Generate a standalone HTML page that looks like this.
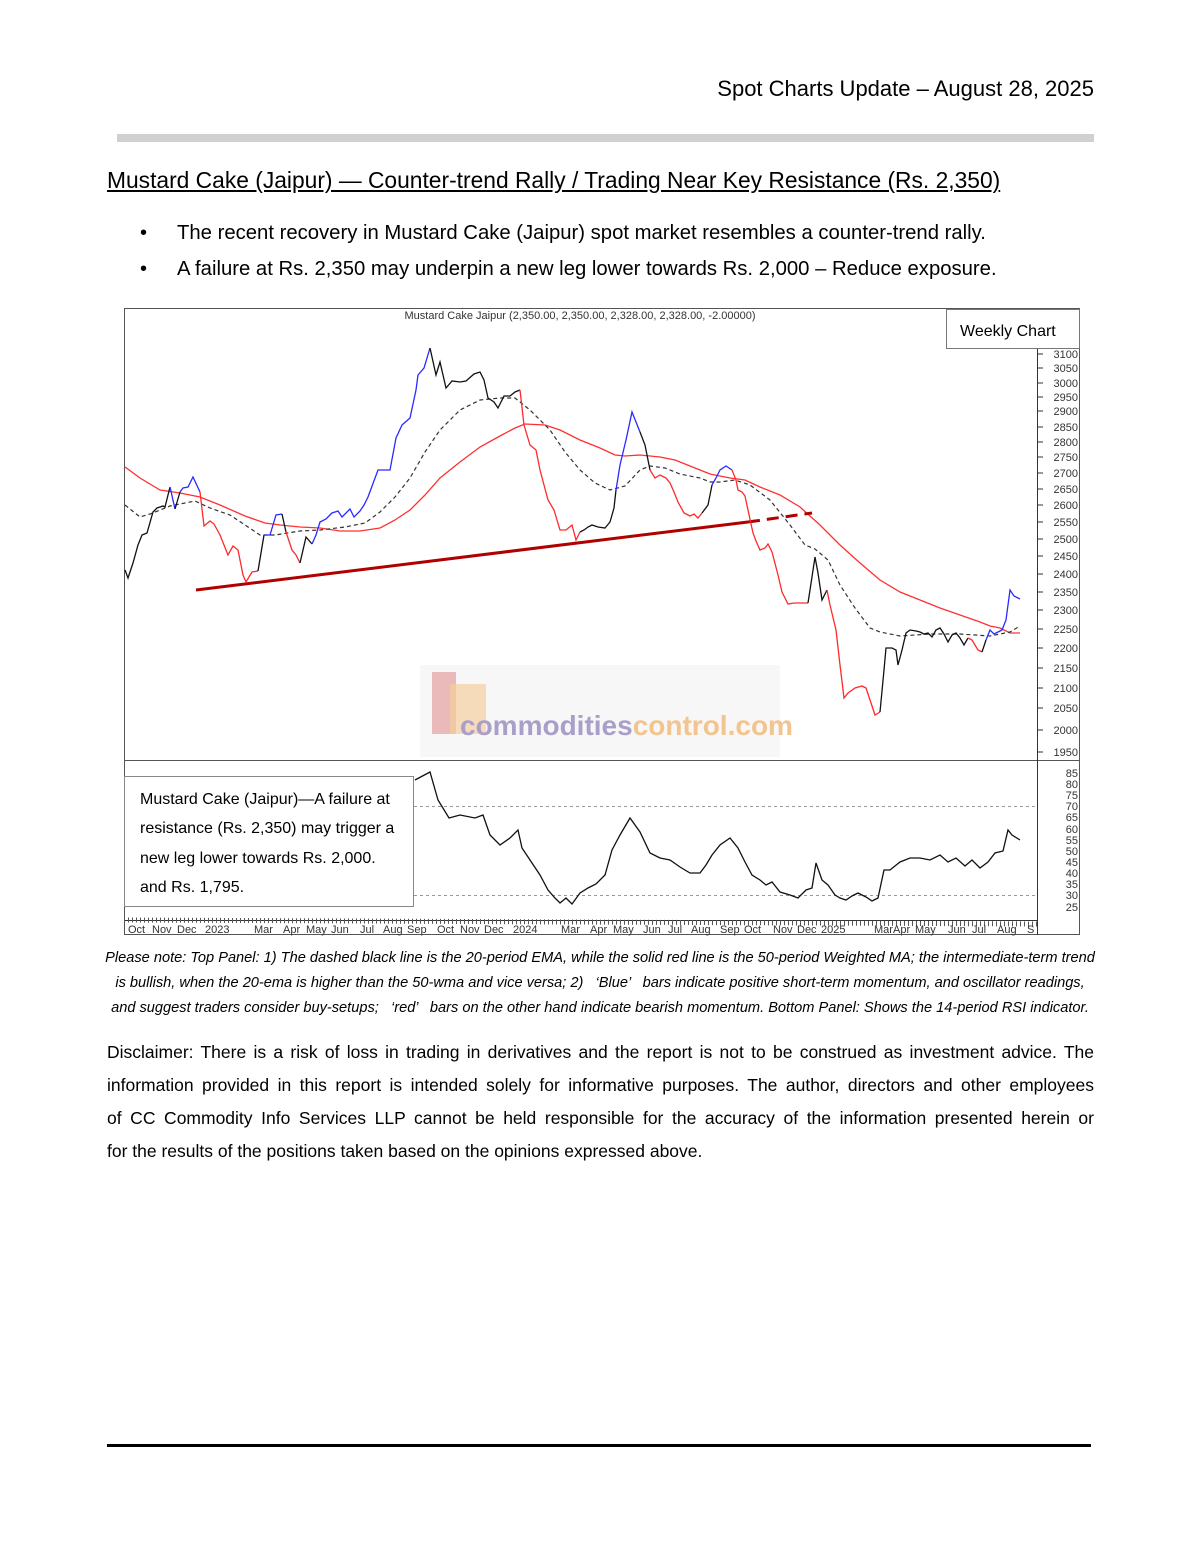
<!DOCTYPE html>
<html><head><meta charset="utf-8"><style>
body{margin:0;background:#fff;}
.p{position:relative;width:1200px;height:1553px;font-family:"Liberation Sans",sans-serif;color:#000;}
.a{position:absolute;white-space:nowrap;}
.j{position:absolute;left:107px;width:987px;font-size:17.5px;text-align:justify;text-align-last:justify;white-space:nowrap;}
</style></head><body><div class="p">
<div class="a" style="right:106px;top:76px;font-size:22px;">Spot Charts Update – August 28, 2025</div>
<div class="a" style="left:117px;top:134px;width:977px;height:8px;background:#d0d0d0;"></div>
<div class="a" style="left:107px;top:167px;font-size:22.8px;text-decoration:underline;">Mustard Cake (Jaipur) — Counter-trend Rally / Trading Near Key Resistance (Rs. 2,350)</div>
<div class="a" style="left:140px;top:222px;font-size:20px;">•</div>
<div class="a" style="left:177px;top:222px;font-size:20.3px;">The recent recovery in Mustard Cake (Jaipur) spot market resembles a counter-trend rally.</div>
<div class="a" style="left:140px;top:258px;font-size:20px;">•</div>
<div class="a" style="left:177px;top:258px;font-size:20.3px;">A failure at Rs. 2,350 may underpin a new leg lower towards Rs. 2,000 – Reduce exposure.</div>

<svg class="a" style="left:0;top:0" width="1200" height="1000" font-family="Liberation Sans, sans-serif">
<rect x="124.5" y="308.5" width="955" height="626" fill="none" stroke="#555"/>
<line x1="124" y1="760.5" x2="1080" y2="760.5" stroke="#555"/>
<line x1="1037.5" y1="345" x2="1037.5" y2="935" stroke="#333"/>
<text x="580" y="319" font-size="11" text-anchor="middle" fill="#333">Mustard Cake Jaipur (2,350.00, 2,350.00, 2,328.00, 2,328.00, -2.00000)</text>
<rect x="946.5" y="309.5" width="133" height="39" fill="#fff" stroke="#777"/>
<text x="960" y="336" font-size="16">Weekly Chart</text>
<rect x="420" y="665" width="360" height="92" fill="#f7f7f7"/>
<rect x="432" y="672" width="24" height="62" fill="#e4a0a0" opacity="0.7"/>
<rect x="450" y="684" width="36" height="50" fill="#f3cf9e" opacity="0.7"/>
<text x="460" y="735" font-size="28" font-weight="bold" fill="#a99fc9">commodities<tspan fill="#f2c48f">control.com</tspan></text>
<g font-size="11" fill="#333" text-anchor="end">
<text x="1078" y="358">3100</text><text x="1078" y="372">3050</text><text x="1078" y="387">3000</text><text x="1078" y="401">2950</text><text x="1078" y="415">2900</text><text x="1078" y="431">2850</text><text x="1078" y="446">2800</text><text x="1078" y="461">2750</text><text x="1078" y="477">2700</text><text x="1078" y="493">2650</text><text x="1078" y="509">2600</text><text x="1078" y="526">2550</text><text x="1078" y="543">2500</text><text x="1078" y="560">2450</text><text x="1078" y="578">2400</text><text x="1078" y="596">2350</text><text x="1078" y="614">2300</text><text x="1078" y="633">2250</text><text x="1078" y="652">2200</text><text x="1078" y="672">2150</text><text x="1078" y="692">2100</text><text x="1078" y="712">2050</text><text x="1078" y="734">2000</text><text x="1078" y="756">1950</text>
<text x="1078" y="777">85</text><text x="1078" y="788">80</text><text x="1078" y="799">75</text><text x="1078" y="810">70</text><text x="1078" y="821">65</text><text x="1078" y="833">60</text><text x="1078" y="844">55</text><text x="1078" y="855">50</text><text x="1078" y="866">45</text><text x="1078" y="877">40</text><text x="1078" y="888">35</text><text x="1078" y="899">30</text><text x="1078" y="911">25</text>
</g>
<path d="M1037 354h6M1037 368h6M1037 383h6M1037 397h6M1037 411h6M1037 427h6M1037 442h6M1037 457h6M1037 473h6M1037 489h6M1037 505h6M1037 522h6M1037 539h6M1037 556h6M1037 574h6M1037 592h6M1037 610h6M1037 629h6M1037 648h6M1037 668h6M1037 688h6M1037 708h6M1037 730h6M1037 752h6" stroke="#333"/>
<polyline fill="none" stroke="#ff3030" stroke-width="1.3" points="125,467 140,478 160,490 180,493 200,497 220,505 245,516 265,523 280,525 300,527 320,528 340,531 360,531 380,528 395,520 410,510 425,495 440,478 460,462 480,447 500,436 515,428 525,424 545,425 560,430 580,440 600,448 615,455 625,456 640,455 660,457 675,460 690,466 710,474 730,478 745,480 760,487 780,495 800,507 820,525 840,545 860,563 880,580 900,592 920,600 940,608 960,615 980,622 990,626 1000,628 1010,633 1020,633"/>
<polyline fill="none" stroke="#333" stroke-width="1.2" stroke-dasharray="4,3" points="125,505 140,517 150,514 170,506 195,501 210,508 230,515 245,525 260,535 275,535 300,531 320,530 345,527 365,523 380,512 395,497 410,478 425,452 440,430 460,410 480,400 500,398 515,398 530,410 550,430 565,452 580,470 595,483 610,490 625,486 640,470 650,466 665,468 680,474 700,478 710,482 720,482 735,480 750,485 770,500 790,525 805,545 815,549 828,560 840,585 855,608 870,628 880,632 900,636 930,634 960,634 990,636 1010,632 1020,626"/>
<line x1="196" y1="590" x2="748" y2="522" stroke="#b00000" stroke-width="3"/>
<line x1="748" y1="522" x2="812" y2="513" stroke="#b00000" stroke-width="3" stroke-dasharray="12,7"/>
<g fill="none" stroke-width="1.3">
<polyline stroke="#111" points="125,570 128,578 133,563 138,545 142,535 147,533 153,512 157,508 163,506 165,507 170,487"/>
<polyline stroke="#2a2aff" points="170,487 175,509"/>
<polyline stroke="#111" points="175,509 180,492"/>
<polyline stroke="#2a2aff" points="180,492 183,488 188,487 193,477 200,492"/>
<polyline stroke="#ff2a2a" points="200,492 204,526 210,521 214,524 220,535 228,555 233,546 238,550 243,575 246,582 252,572 258,571"/>
<polyline stroke="#111" points="258,571 264,535"/>
<polyline stroke="#2a2aff" points="264,535 270,535 276,515 282,514"/>
<polyline stroke="#111" points="282,514 286,532"/>
<polyline stroke="#ff2a2a" points="286,532 292,550 296,555 300,563"/>
<polyline stroke="#111" points="300,563 306,537 312,544"/>
<polyline stroke="#2a2aff" points="312,544 316,535 320,522 326,519 332,513 338,511 342,517 350,509 354,517 360,511 364,505 368,497 378,470 386,470 390,470 396,438 402,425 410,418 416,390 418,375 424,368 430,348"/>
<polyline stroke="#111" points="430,348 436,375 440,362 446,388 452,381 460,382 466,381 474,374 480,372 484,380 488,398 494,402 498,408 504,396 510,396 515,392 520,390"/>
<polyline stroke="#ff2a2a" points="520,390 524,425 530,445 536,450 540,470 548,500 554,510 560,530 566,530 572,525 576,540 580,532"/>
<polyline stroke="#111" points="580,532 584,530 588,527 592,525 598,527 605,528 610,522 614,508 616,490"/>
<polyline stroke="#2a2aff" points="616,490 620,465 626,440 632,412 640,432"/>
<polyline stroke="#111" points="640,432 645,445 650,470"/>
<polyline stroke="#ff2a2a" points="650,470 655,478 660,475 666,478 670,483 674,492 678,502 684,513 690,516 694,514 698,518 702,513"/>
<polyline stroke="#111" points="702,513 708,505 712,485"/>
<polyline stroke="#2a2aff" points="712,485 716,478 720,470 726,466 732,470"/>
<polyline stroke="#ff2a2a" points="732,470 736,480 738,490 742,492 745,496 748,510 753,533 756,541 760,550 765,548 768,544 772,552 778,575 782,592 788,604 794,603 800,603 808,603"/>
<polyline stroke="#111" points="808,603 810,590 815,557 818,573 822,600 827,590"/>
<polyline stroke="#ff2a2a" points="827,590 830,605 836,630 840,665 844,698 848,693 855,688 862,686 866,688 870,700 875,715 880,712"/>
<polyline stroke="#111" points="880,712 884,670 886,648 892,648 896,650 898,665 902,650 906,633 910,630 916,631 920,632 924,634 928,633 932,637 936,630 940,628 944,634 948,642 952,635 956,633 960,638 964,645 968,638"/>
<polyline stroke="#ff2a2a" points="968,638 972,640 978,650 982,652"/>
<polyline stroke="#111" points="982,652 986,640"/>
<polyline stroke="#2a2aff" points="986,640 990,630 994,634 998,632 1002,630 1006,620 1010,590 1014,596 1020,599"/>
</g>
<line x1="414" y1="806.5" x2="1037" y2="806.5" stroke="#999" stroke-dasharray="3,3"/>
<line x1="414" y1="895.5" x2="1037" y2="895.5" stroke="#999" stroke-dasharray="3,3"/>
<polyline fill="none" stroke="#111" stroke-width="1.3" points="415,780 430,772 438,800 449,818 460,815 475,818 483,815 490,835 500,845 510,838 518,830 522,848 530,860 540,875 548,890 555,898 560,903 566,898 572,904 580,893 588,888 596,884 605,875 612,850 620,835 630,818 640,832 650,853 660,858 670,860 680,867 690,873 700,873 706,865 712,855 720,845 730,838 738,848 745,862 752,875 760,880 766,885 772,882 780,892 790,895 798,898 806,890 812,888 816,863 822,880 828,885 835,895 840,898 846,900 852,896 858,893 866,897 872,901 878,898 884,870 890,870 900,862 910,858 920,858 930,860 940,855 948,862 956,858 965,866 972,860 980,868 988,862 995,853 1003,851 1008,830 1012,835 1020,840"/>
<rect x="124.5" y="776.5" width="289" height="130" fill="#fff" stroke="#888"/>
<g font-size="16"><text x="140" y="804">Mustard Cake (Jaipur)—A failure at</text><text x="140" y="833">resistance (Rs. 2,350) may trigger a</text><text x="140" y="863">new leg lower towards Rs. 2,000.</text><text x="140" y="892">and Rs. 1,795.</text></g>
<line x1="124" y1="920.5" x2="1037" y2="920.5" stroke="#333"/>
<line x1="124" y1="920" x2="1037" y2="924" stroke="#555" stroke-dasharray="1,3" stroke-width="5"/>
<g font-size="11" fill="#333">
<text x="128" y="933">Oct</text><text x="152" y="933">Nov</text><text x="177" y="933">Dec</text><text x="205" y="933">2023</text><text x="254" y="933">Mar</text><text x="283" y="933">Apr</text><text x="306" y="933">May</text><text x="331" y="933">Jun</text><text x="360" y="933">Jul</text><text x="383" y="933">Aug</text><text x="407" y="933">Sep</text><text x="437" y="933">Oct</text><text x="460" y="933">Nov</text><text x="484" y="933">Dec</text><text x="513" y="933">2024</text><text x="561" y="933">Mar</text><text x="590" y="933">Apr</text><text x="613" y="933">May</text><text x="643" y="933">Jun</text><text x="668" y="933">Jul</text><text x="691" y="933">Aug</text><text x="720" y="933">Sep</text><text x="744" y="933">Oct</text><text x="773" y="933">Nov</text><text x="797" y="933">Dec</text><text x="821" y="933">2025</text><text x="874" y="933">Mar</text><text x="893" y="933">Apr</text><text x="915" y="933">May</text><text x="948" y="933">Jun</text><text x="972" y="933">Jul</text><text x="997" y="933">Aug</text><text x="1027" y="933">S</text>
</g>
</svg>

<div class="a" style="left:95px;width:1010px;top:946px;font-size:14.6px;font-style:italic;text-align:center;line-height:25px;white-space:normal;">Please note: Top Panel: 1) The dashed black line is the 20-period EMA, while the solid red line is the 50-period Weighted MA; the intermediate-term trend<br>is bullish, when the 20-ema is higher than the 50-wma and vice versa; 2) &nbsp; ‘Blue’ &nbsp; bars indicate positive short-term momentum, and oscillator readings,<br>and suggest traders consider buy-setups; &nbsp; ‘red’ &nbsp; bars on the other hand indicate bearish momentum. Bottom Panel: Shows the 14-period RSI indicator.</div>
<div class="j" style="top:1042px;">Disclaimer: There is a risk of loss in trading in derivatives and the report is not to be construed as investment advice. The</div>
<div class="j" style="top:1075px;">information provided in this report is intended solely for informative purposes. The author, directors and other employees</div>
<div class="j" style="top:1108px;">of CC Commodity Info Services LLP cannot be held responsible for the accuracy of the information presented herein or</div>
<div class="a" style="left:107px;top:1141px;font-size:17.5px;">for the results of the positions taken based on the opinions expressed above.</div>
<div class="a" style="left:107px;top:1444px;width:984px;height:3px;background:#000;"></div>
</div>
</body></html>
